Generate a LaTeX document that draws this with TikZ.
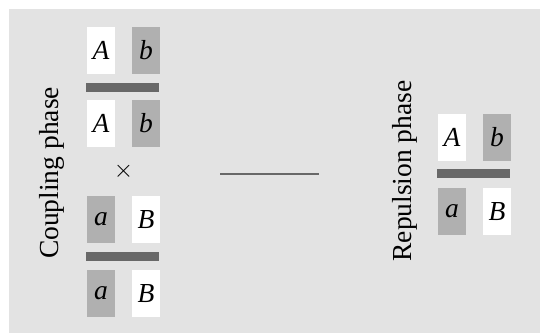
\documentclass[tikz,border=0pt]{standalone}
\usepackage{fontspec}
\setmainfont{Liberation Serif}
\definecolor{bgc}{HTML}{E3E3E3}
\definecolor{darkbox}{HTML}{B0B0B0}
\definecolor{barc}{HTML}{686868}
\begin{document}
\begin{tikzpicture}[x=1pt,y=-1pt,
  allele/.style={minimum width=28pt,minimum height=47pt,inner sep=0pt,font=\fontsize{27.5}{27.5}\selectfont\itshape},
  wbox/.style={allele,fill=white},
  gbox/.style={allele,fill=darkbox},
  chrom/.style={fill=barc,minimum width=73pt,minimum height=9pt,inner sep=0pt},
  phase/.style={rotate=90,font=\fontsize{27.5}{27.5}\selectfont,inner sep=0pt}]
\useasboundingbox (0,0) rectangle (540,333);
\fill[bgc] (9,9) rectangle (540,333);
% coupling phase
\node[phase] (cp) at (52,173) {Coupling phase};
\node[wbox] (A1) at (101,50.5) {A};
\node[gbox] (b1) at (146,50.5) {b};
\node[chrom] (c1) at (122.5,87.5) {};
\node[wbox] (A2) at (101,123.5) {A};
\node[gbox] (b2) at (146,123.5) {b};
\node[font=\fontsize{24}{24}\selectfont] (x) at (123.5,171.5) {$\times$};
\node[gbox] (a1) at (101,219.5) {a};
\node[wbox] (B1) at (146,219.5) {B};
\node[chrom] (c2) at (122.5,256.5) {};
\node[gbox] (a2) at (101,293.5) {a};
\node[wbox] (B2) at (146,293.5) {B};
% separator line
\coordinate (l1) at (220,174);
\coordinate (l2) at (319,174);
\draw[barc,line width=2pt] (l1) -- (l2);
% repulsion phase
\node[phase] (rp) at (405,171) {Repulsion phase};
\node[wbox] (A3) at (452,137.5) {A};
\node[gbox] (b3) at (497,137.5) {b};
\node[chrom] (c3) at (473.5,173) {};
\node[gbox] (a3) at (452,211.5) {a};
\node[wbox] (B3) at (497,211.5) {B};
\end{tikzpicture}
\end{document}
